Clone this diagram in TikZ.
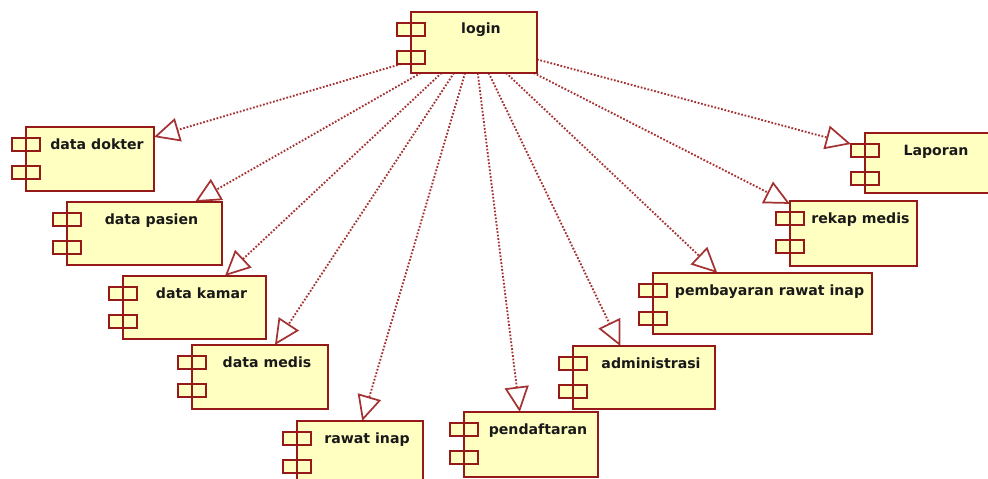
\documentclass[tikz,border=0pt]{standalone}
\usepackage{fontspec}
\newfontfamily\lblfont{DejaVu Sans}
\usetikzlibrary{arrows.meta}

\definecolor{compfill}{RGB}{255,255,194}
\definecolor{compline}{RGB}{150,25,25}
\definecolor{deplink}{RGB}{165,50,50}

\pgfdeclarelayer{links}
\pgfsetlayers{links,main}

% one drawing unit = one pixel of the 988 x 478 canvas
\newcommand\pxu{0.75pt}

\tikzset{
  compbox/.style={draw=compline, fill=compfill, line width=1.6pt,
    inner sep=0pt, outer sep=0pt, anchor=north west},
  tabbox/.style={compbox, minimum width=28*\pxu, minimum height=13*\pxu},
  compedge/.style={draw=compline, line width=1.6pt},
  lbl/.style={font=\lblfont\bfseries\fontsize{10.6}{12}\selectfont,
    anchor=base, inner sep=0pt, text=black!90},
  dep/.style={draw=deplink, line width=1.4pt, dash pattern=on 1.3pt off 1.3pt,
    -{Triangle[open, length=19pt, width=18pt, line width=1.3pt]}},
}

% UML component: name, left, top, width, height, label
\newcommand\umlcomp[6]{%
  \node[compbox, minimum width=#4*\pxu, minimum height=#5*\pxu] (#1) at (#2,#3) {};
  \node[tabbox] (#1-a) at ([shift={(-14,11)}]#1.north west) {};
  \node[tabbox] (#1-b) at ([shift={(-14,39)}]#1.north west) {};
  \draw[compedge] (#1.north west) -- (#1.south west);
  \node[lbl] (#1-t) at ([shift={(7+#4/2,22)}]#1.north west) {#6};
}

\begin{document}
\begin{tikzpicture}[x=0.75pt, y=-0.75pt]
  \useasboundingbox (0,0) rectangle (988,478);
  \clip (0,0) rectangle (988,478);

  \umlcomp{login}{411}{12}{126}{61}{login}
  \umlcomp{dokter}{26}{127}{128}{64}{data dokter}
  \umlcomp{pasien}{67}{202}{155}{63}{data pasien}
  \umlcomp{kamar}{123}{276}{143}{63}{data kamar}
  \umlcomp{medis}{192}{345}{136}{64}{data medis}
  \umlcomp{rawat}{297}{421}{126}{64}{rawat inap}
  \umlcomp{daftar}{464}{412}{134}{65}{pendaftaran}
  \umlcomp{admin}{573}{346}{142}{63}{administrasi}
  \umlcomp{bayar}{653}{273}{219}{61}{pembayaran rawat inap}
  \umlcomp{rekap}{790}{201}{127}{65}{rekap medis}
  \umlcomp{laporan}{865}{133}{128}{60}{Laporan}

  % dependencies from the login component
  \begin{pgfonlayer}{links}
    \draw[dep] (login) -- (dokter.19);
    \draw[dep] (login) -- (pasien.32);
    \draw[dep] (login) -- (kamar.46);
    \draw[dep] (login) -- (medis.65);
    \draw[dep] (login) -- (rawat.86);
    \draw[dep] (login) -- (daftar.109);
    \draw[dep] (login) -- (admin.127);
    \draw[dep] (login) -- (bayar.146);
    \draw[dep] (login) -- (rekap.155);
    \draw[dep] (login) -- (laporan-a.north west);
  \end{pgfonlayer}
\end{tikzpicture}
\end{document}
